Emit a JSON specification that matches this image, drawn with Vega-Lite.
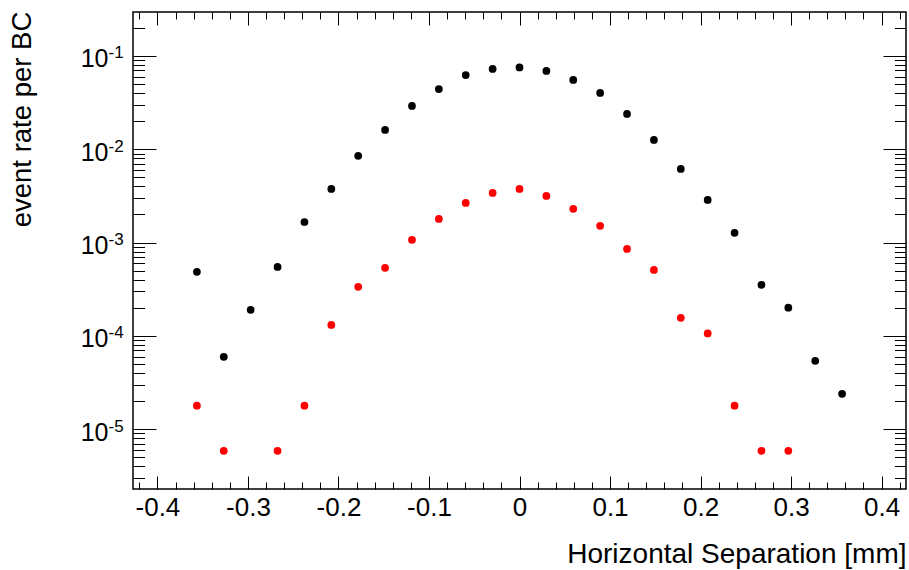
{
  "$schema": "https://vega.github.io/schema/vega-lite/v6.json",
  "width": 773,
  "height": 477,
  "autosize": "none",
  "padding": {"left": 133, "top": 12, "right": 3, "bottom": 81},
  "background": "white",
  "config": {
    "view": {"stroke": "black", "strokeWidth": 1.5},
    "font": "Liberation Sans",
    "axis": {"domain": false, "grid": false, "tickColor": "black", "tickWidth": 1, "labelColor": "black", "titleColor": "black", "labelFont": "Liberation Sans", "titleFont": "Liberation Sans", "titleFontWeight": "normal"}
  },
  "datasets": {
    "black": [
      {"x": -0.3564, "y": 0.000485},
      {"x": -0.3267, "y": 0.0000596},
      {"x": -0.297, "y": 0.00019},
      {"x": -0.2673, "y": 0.000548},
      {"x": -0.2376, "y": 0.00166},
      {"x": -0.2079, "y": 0.00376},
      {"x": -0.1782, "y": 0.0085},
      {"x": -0.1485, "y": 0.0161},
      {"x": -0.1188, "y": 0.0291},
      {"x": -0.0891, "y": 0.0442},
      {"x": -0.0594, "y": 0.0625},
      {"x": -0.0297, "y": 0.0726},
      {"x": 0, "y": 0.0753},
      {"x": 0.0297, "y": 0.069},
      {"x": 0.0594, "y": 0.0553},
      {"x": 0.0891, "y": 0.0402},
      {"x": 0.1188, "y": 0.0239},
      {"x": 0.1485, "y": 0.0126},
      {"x": 0.1782, "y": 0.00615},
      {"x": 0.2079, "y": 0.00286},
      {"x": 0.2376, "y": 0.00127},
      {"x": 0.2673, "y": 0.000352},
      {"x": 0.297, "y": 0.0002},
      {"x": 0.3267, "y": 0.000054},
      {"x": 0.3564, "y": 0.0000239}
    ],
    "red": [
      {"x": -0.3564, "y": 0.0000178},
      {"x": -0.3267, "y": 0.00000586},
      {"x": -0.2673, "y": 0.00000586},
      {"x": -0.2376, "y": 0.0000178},
      {"x": -0.2079, "y": 0.000131},
      {"x": -0.1782, "y": 0.000335},
      {"x": -0.1485, "y": 0.000536},
      {"x": -0.1188, "y": 0.00107},
      {"x": -0.0891, "y": 0.00179},
      {"x": -0.0594, "y": 0.00266},
      {"x": -0.0297, "y": 0.0034},
      {"x": 0, "y": 0.00376},
      {"x": 0.0297, "y": 0.00316},
      {"x": 0.0594, "y": 0.0023},
      {"x": 0.0891, "y": 0.00151},
      {"x": 0.1188, "y": 0.000855},
      {"x": 0.1485, "y": 0.000509},
      {"x": 0.1782, "y": 0.000156},
      {"x": 0.2079, "y": 0.000106},
      {"x": 0.2376, "y": 0.0000178},
      {"x": 0.2673, "y": 0.00000586},
      {"x": 0.297, "y": 0.00000586}
    ]
  },
  "layer": [
    {
      "data": {"name": "black"},
      "mark": {"type": "circle", "color": "black", "size": 60, "opacity": 1},
      "encoding": {
        "x": {"field": "x", "type": "quantitative", "scale": {"domain": [-0.427, 0.427], "nice": false, "zero": false},
          "axis": {"orient": "bottom", "values": [-0.4, -0.3, -0.2, -0.1, 0, 0.1, 0.2, 0.3, 0.4], "ticks": false, "tickSize": 0, "labelFontSize": 26, "labelPadding": 5, "labelBaseline": "top", "labelFlush": false, "labelOverlap": false, "labelExpr": "'' + datum.value",
            "title": "Horizontal Separation [mm]", "titleFontSize": 28, "titleX": 773, "titleY": 73, "titleAlign": "right", "titleBaseline": "alphabetic", "titleAnchor": null}},
        "y": {"field": "y", "type": "quantitative", "scale": {"type": "log", "domain": [0.00000228, 0.296], "nice": false, "zero": false},
          "axis": {"orient": "left", "values": [0.1, 0.01, 0.001, 0.0001, 0.00001], "ticks": false, "tickSize": 0, "labelFontSize": 25, "labelAlign": "right", "labelBaseline": "middle", "labelPadding": 25, "labelOffset": 3, "labelFlush": false, "labelOverlap": false, "labelExpr": "'10'",
            "title": "event rate per BC", "titleFontSize": 27.5, "titleX": -111, "titleY": 107, "titleAngle": -90, "titleAlign": "center", "titleBaseline": "middle", "titleAnchor": null}}
      }
    },
    {
      "data": {"name": "red"},
      "mark": {"type": "circle", "color": "#ff0000", "size": 60, "opacity": 1},
      "encoding": {
        "x": {"field": "x", "type": "quantitative", "scale": {"domain": [-0.427, 0.427], "nice": false, "zero": false},
          "axis": {"orient": "bottom", "values": [-0.4, -0.3, -0.2, -0.1, 0, 0.1, 0.2, 0.3, 0.4], "labels": false, "title": null, "tickSize": -13}},
        "y": {"field": "y", "type": "quantitative", "scale": {"type": "log", "domain": [0.00000228, 0.296], "nice": false, "zero": false},
          "axis": {"orient": "left", "values": [0.1, 0.01, 0.001, 0.0001, 0.00001], "ticks": false, "tickSize": 0, "labelFontSize": 17, "labelAlign": "left", "labelBaseline": "middle", "labelPadding": 25, "labelOffset": -3, "labelFlush": false, "labelOverlap": false, "labelExpr": "'-' + round(-log(datum.value)/LN10)", "title": null}}
      }
    },
    {
      "data": {"name": "black"},
      "mark": {"type": "circle", "opacity": 0},
      "encoding": {
        "x": {"field": "x", "type": "quantitative", "scale": {"domain": [-0.427, 0.427], "nice": false, "zero": false},
          "axis": {"orient": "bottom", "values": [-0.42, -0.38, -0.36, -0.34, -0.32, -0.28, -0.26, -0.24, -0.22, -0.18, -0.16, -0.14, -0.12, -0.08, -0.06, -0.04, -0.02, 0.02, 0.04, 0.06, 0.08, 0.12, 0.14, 0.16, 0.18, 0.22, 0.24, 0.26, 0.28, 0.32, 0.34, 0.36, 0.38, 0.42], "labels": false, "title": null, "tickSize": -7}},
        "y": {"field": "y", "type": "quantitative", "scale": {"type": "log", "domain": [0.00000228, 0.296], "nice": false, "zero": false},
          "axis": {"orient": "left", "values": [0.1, 0.01, 0.001, 0.0001, 0.00001], "labels": false, "title": null, "tickSize": -23}}
      }
    },
    {
      "data": {"name": "black"},
      "mark": {"type": "circle", "opacity": 0},
      "encoding": {
        "x": {"field": "x", "type": "quantitative", "scale": {"domain": [-0.427, 0.427], "nice": false, "zero": false},
          "axis": {"orient": "top", "values": [-0.4, -0.3, -0.2, -0.1, 0, 0.1, 0.2, 0.3, 0.4], "labels": false, "title": null, "tickSize": -13}},
        "y": {"field": "y", "type": "quantitative", "scale": {"type": "log", "domain": [0.00000228, 0.296], "nice": false, "zero": false},
          "axis": {"orient": "left", "values": [0.000003, 0.000004, 0.000005, 0.000006, 0.000007, 0.000008, 0.000009, 0.00002, 0.00003, 0.00004, 0.00005, 0.00006, 0.00007, 0.00008, 0.00009, 0.0002, 0.0003, 0.0004, 0.0005, 0.0006, 0.0007, 0.0008, 0.0009, 0.002, 0.003, 0.004, 0.005, 0.006, 0.007, 0.008, 0.009, 0.02, 0.03, 0.04, 0.05, 0.06, 0.07, 0.08, 0.09, 0.2], "labels": false, "title": null, "tickSize": -11.5}}
      }
    },
    {
      "data": {"name": "black"},
      "mark": {"type": "circle", "opacity": 0},
      "encoding": {
        "x": {"field": "x", "type": "quantitative", "scale": {"domain": [-0.427, 0.427], "nice": false, "zero": false},
          "axis": {"orient": "top", "values": [-0.42, -0.38, -0.36, -0.34, -0.32, -0.28, -0.26, -0.24, -0.22, -0.18, -0.16, -0.14, -0.12, -0.08, -0.06, -0.04, -0.02, 0.02, 0.04, 0.06, 0.08, 0.12, 0.14, 0.16, 0.18, 0.22, 0.24, 0.26, 0.28, 0.32, 0.34, 0.36, 0.38, 0.42], "labels": false, "title": null, "tickSize": -7}},
        "y": {"field": "y", "type": "quantitative", "scale": {"type": "log", "domain": [0.00000228, 0.296], "nice": false, "zero": false},
          "axis": {"orient": "right", "values": [0.1, 0.01, 0.001, 0.0001, 0.00001], "labels": false, "title": null, "tickSize": -23}}
      }
    },
    {
      "data": {"name": "black"},
      "mark": {"type": "circle", "opacity": 0},
      "encoding": {
        "x": {"field": "x", "type": "quantitative", "scale": {"domain": [-0.427, 0.427], "nice": false, "zero": false}, "axis": null},
        "y": {"field": "y", "type": "quantitative", "scale": {"type": "log", "domain": [0.00000228, 0.296], "nice": false, "zero": false},
          "axis": {"orient": "right", "values": [0.000003, 0.000004, 0.000005, 0.000006, 0.000007, 0.000008, 0.000009, 0.00002, 0.00003, 0.00004, 0.00005, 0.00006, 0.00007, 0.00008, 0.00009, 0.0002, 0.0003, 0.0004, 0.0005, 0.0006, 0.0007, 0.0008, 0.0009, 0.002, 0.003, 0.004, 0.005, 0.006, 0.007, 0.008, 0.009, 0.02, 0.03, 0.04, 0.05, 0.06, 0.07, 0.08, 0.09, 0.2], "labels": false, "title": null, "tickSize": -11.5}}
      }
    }
  ],
  "resolve": {"axis": {"x": "independent", "y": "independent"}}
}
